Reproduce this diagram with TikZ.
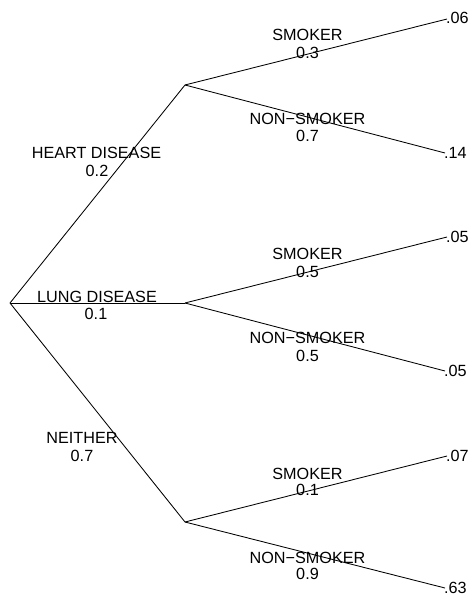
\documentclass[tikz,border=0pt]{standalone}
\usepackage{fontspec}
\setmainfont{Liberation Sans}
\begin{document}
\begin{tikzpicture}[x=1pt,y=-1pt,
  lbl/.style={inner sep=0pt,anchor=base,font=\fontsize{16.2}{19}\selectfont},
  leaf/.style={inner sep=0pt,anchor=base west,font=\fontsize{16.2}{19}\selectfont},
  edge/.style={line width=0.85pt,black}]
\useasboundingbox (0,0) rectangle (470,596);
% points
\coordinate (root) at (10,303);
\coordinate (h) at (185,85);
\coordinate (l) at (185,303);
\coordinate (n) at (185,522);
\coordinate (h1) at (447,19);
\coordinate (h2) at (445,153);
\coordinate (l1) at (447,237);
\coordinate (l2) at (445,371);
\coordinate (n1) at (447,456);
\coordinate (n2) at (445,588);
% edges
\draw[edge] (root) -- (h);
\draw[edge] (root) -- (l);
\draw[edge] (root) -- (n);
\draw[edge] (h) -- (h1);
\draw[edge] (h) -- (h2);
\draw[edge] (l) -- (l1);
\draw[edge] (l) -- (l2);
\draw[edge] (n) -- (n1);
\draw[edge] (n) -- (n2);
% first-level labels
\node[lbl] (th) at (96.5,158.5) {HEART DISEASE};
\node[lbl] (tph) at (97,176) {0.2};
\node[lbl] (tl) at (97,302) {LUNG DISEASE};
\node[lbl] (tpl) at (96,319.5) {0.1};
\node[lbl] (tn) at (82,443) {NEITHER};
\node[lbl] (tpn) at (82,461) {0.7};
% second-level labels
\node[lbl] (s1) at (307.5,40.5) {SMOKER};
\node[lbl] (ps1) at (307.5,58.3) {0.3};
\node[lbl] (ns1) at (307.5,125) {NON{\textminus}SMOKER};
\node[lbl] (pn1) at (307.5,142) {0.7};
\node[lbl] (s2) at (307.5,259) {SMOKER};
\node[lbl] (ps2) at (307.5,277) {0.5};
\node[lbl] (ns2) at (307.5,343.5) {NON{\textminus}SMOKER};
\node[lbl] (pn2) at (307.5,361) {0.5};
\node[lbl] (s3) at (307.5,479) {SMOKER};
\node[lbl] (ps3) at (307.5,495.5) {0.1};
\node[lbl] (ns3) at (307.5,563) {NON{\textminus}SMOKER};
\node[lbl] (pn3) at (307.5,579.5) {0.9};
% leaves
\node[leaf] (v1) at (446,24) {.06};
\node[leaf] (v2) at (444,158) {.14};
\node[leaf] (v3) at (446,242) {.05};
\node[leaf] (v4) at (444,376) {.05};
\node[leaf] (v5) at (446,461.5) {.07};
\node[leaf] (v6) at (444,593) {.63};
\end{tikzpicture}
\end{document}
